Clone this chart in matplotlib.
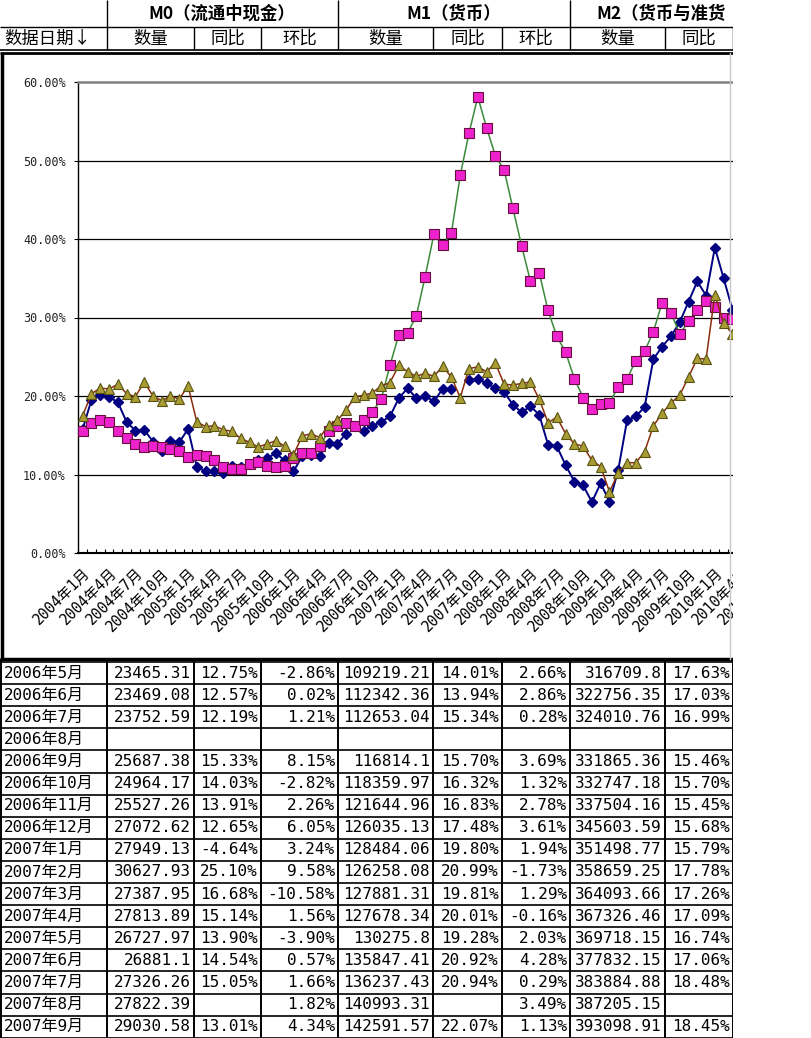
import numpy as np
import matplotlib.pyplot as plt
from matplotlib.patches import Rectangle
from matplotlib.lines import Line2D

W, H = 812, 1038

# monthly categories starting 2004年1月
months = [f"{2004 + k // 12}年{k % 12 + 1}月" for k in range(80)]

# navy diamonds
s_navy = [15.8, 19.5, 20.1, 19.9, 19.2, 16.7, 15.6, 15.7, 14.2, 13.0,
          14.3, 14.1, 15.8, 11.0, 10.4, 10.4, 10.2, 11.1, 11.0, 11.3,
          11.8, 12.1, 12.7, 11.8, 10.4, 12.3, 12.5, 12.4, 14.0, 13.9,
          15.2, np.nan, 15.6, 16.2, 16.7, 17.4, 19.7, 21.0, 19.7, 20.0,
          19.3, 20.9, 20.9, np.nan, 22.0, 22.2, 21.6, 21.0, 20.5, 18.9,
          17.9, 18.7, 17.6, 13.8, 13.6, 11.2, 9.1, 8.6, 6.5, 8.9,
          6.5, 10.6, 16.9, 17.4, 18.6, 24.7, 26.3, 27.6, 29.4, 32.0,
          34.6, 32.8, 38.9, 35.0, 31.0]
# magenta squares, green line
s_pink = [15.5, 16.5, 16.9, 16.7, 15.6, 14.7, 13.9, 13.5, 13.6, 13.5,
          13.3, 13.0, 12.2, 12.5, 12.4, 11.8, 11.0, 10.7, 10.7, 11.3,
          11.6, 11.1, 10.9, 11.1, 12.1, 12.7, 12.7, 13.6, 15.5, 16.2,
          16.6, 16.2, 16.9, 18.0, 19.6, 23.9, 27.8, 28.0, 30.2, 35.2,
          40.6, 39.2, 40.8, 48.1, 53.5, 58.1, 54.2, 50.6, 48.8, 43.9,
          39.1, 34.6, 35.7, 30.9, 27.6, 25.6, 22.2, 19.8, 18.3, 19.0,
          19.1, 21.2, 22.2, 24.5, 25.7, 28.2, 31.9, 30.6, 27.9, 29.5,
          31.0, 32.1, 31.4, 30.0, 29.8]
# olive triangles, brown line
s_olive = [17.5, 20.3, 21.0, 20.9, 21.5, 20.3, 19.9, 21.8, 20.0, 19.4,
           20.0, 19.6, 21.3, 16.7, 16.1, 16.2, 15.7, 15.5, 14.6, 14.1,
           13.5, 13.9, 14.3, 13.6, 12.5, 14.9, 15.2, 14.7, 16.3, 16.9,
           18.2, 19.9, 20.1, 20.4, 21.3, 21.7, 23.9, 23.1, 22.5, 22.9,
           22.5, 23.8, 22.4, 19.8, 23.5, 23.7, 23.1, 24.2, 21.5, 21.4,
           21.6, 21.8, 19.6, 16.6, 17.3, 15.2, 13.9, 13.6, 11.8, 11.0,
           7.8, 10.2, 11.5, 11.5, 12.9, 16.2, 17.8, 19.1, 20.1, 22.4,
           24.8, 24.7, 32.9, 29.3, 27.9]

# table below the chart
rows = [
    ["2006年5月", "23465.31", "12.75%", "-2.86%", "109219.21", "14.01%", "2.66%", "316709.8", "17.63%"],
    ["2006年6月", "23469.08", "12.57%", "0.02%", "112342.36", "13.94%", "2.86%", "322756.35", "17.03%"],
    ["2006年7月", "23752.59", "12.19%", "1.21%", "112653.04", "15.34%", "0.28%", "324010.76", "16.99%"],
    ["2006年8月", "", "", "", "", "", "", "", ""],
    ["2006年9月", "25687.38", "15.33%", "8.15%", "116814.1", "15.70%", "3.69%", "331865.36", "15.46%"],
    ["2006年10月", "24964.17", "14.03%", "-2.82%", "118359.97", "16.32%", "1.32%", "332747.18", "15.70%"],
    ["2006年11月", "25527.26", "13.91%", "2.26%", "121644.96", "16.83%", "2.78%", "337504.16", "15.45%"],
    ["2006年12月", "27072.62", "12.65%", "6.05%", "126035.13", "17.48%", "3.61%", "345603.59", "15.68%"],
    ["2007年1月", "27949.13", "-4.64%", "3.24%", "128484.06", "19.80%", "1.94%", "351498.77", "15.79%"],
    ["2007年2月", "30627.93", "25.10%", "9.58%", "126258.08", "20.99%", "-1.73%", "358659.25", "17.78%"],
    ["2007年3月", "27387.95", "16.68%", "-10.58%", "127881.31", "19.81%", "1.29%", "364093.66", "17.26%"],
    ["2007年4月", "27813.89", "15.14%", "1.56%", "127678.34", "20.01%", "-0.16%", "367326.46", "17.09%"],
    ["2007年5月", "26727.97", "13.90%", "-3.90%", "130275.8", "19.28%", "2.03%", "369718.15", "16.74%"],
    ["2007年6月", "26881.1", "14.54%", "0.57%", "135847.41", "20.92%", "4.28%", "377832.15", "17.06%"],
    ["2007年7月", "27326.26", "15.05%", "1.66%", "136237.43", "20.94%", "0.29%", "383884.88", "18.48%"],
    ["2007年8月", "27822.39", "", "1.82%", "140993.31", "", "3.49%", "387205.15", ""],
    ["2007年9月", "29030.58", "13.01%", "4.34%", "142591.57", "22.07%", "1.13%", "393098.91", "18.45%"],
]
sub_heads = ["数量", "同比", "环比", "数量", "同比", "环比", "数量", "同比"]

col_x = [0, 107, 194, 261, 338, 433, 502, 570, 665, 733]
CJK = ['Noto Sans CJK SC', 'DejaVu Sans']
MONO = ['DejaVu Sans Mono', 'Noto Sans CJK SC']


def fig_box(x0, y0, x1, y1):
    return [x0 / W, 1 - y1 / H, (x1 - x0) / W, (y1 - y0) / H]


fig = plt.figure(figsize=(W / 100, H / 100), dpi=100)
lay = fig.add_axes([0, 0, 1, 1])
lay.set_xlim(0, W)
lay.set_ylim(H, 0)
lay.axis('off')

# header
lay.hlines(27, 0, 733, color='black', lw=1)
lay.hlines(49.5, 0, 733, color='black', lw=1.2)
lay.hlines(53, 0, 733, color='black', lw=2)
lay.vlines([107, 338, 570], 0, 27, color='black', lw=1)
lay.vlines(col_x[1:], 27, 50, color='black', lw=1)
lay.text(222, 14, "M0（流通中现金）", ha='center', va='center', fontsize=12.5,
         fontweight='bold', family=CJK)
lay.text(454, 14, "M1（货币）", ha='center', va='center', fontsize=12.5,
         fontweight='bold', family=CJK)
lay.text(596, 14, "M2（货币与准货", ha='left', va='center', fontsize=12.5,
         fontweight='bold', family=CJK)
lay.text(4, 38.5, "数据日期↓", ha='left', va='center', fontsize=12.5, family=CJK)
for j, h in enumerate(sub_heads):
    lay.text((col_x[j + 1] + col_x[j + 2]) / 2, 38.5, h, ha='center', va='center',
             fontsize=12.5, family=CJK)

# chart frame
lay.vlines(2, 53, 659, color='black', lw=2.5)
lay.hlines(659, 0, 733, color='black', lw=2.5)

# table
row_h = 22.1
top = 662
for k in range(len(rows) + 1):
    lay.hlines(top + k * row_h, 0, 733, color='black', lw=1.2)
lay.vlines(col_x[1:], 659, H, color='black', lw=1.4)
lay.vlines(1, 659, H, color='black', lw=1.4)
for k, r in enumerate(rows):
    yc = top + (k + 0.5) * row_h
    lay.text(4, yc, r[0], ha='left', va='center', fontsize=11.5, family=MONO)
    for j, v in enumerate(r[1:]):
        lay.text(col_x[j + 2] - 3, yc, v, ha='right', va='center',
                 fontsize=11.5, family=MONO)

# chart
n_cat = 80
ax = fig.add_axes(fig_box(78.3, 82, 78.3 + 8.78 * n_cat, 553))
xs = np.arange(len(s_navy))
ax.plot(xs, s_navy, '-', color='#000080', lw=1.4, marker='D', ms=5.4,
        mfc='#000080', mec='#000080', zorder=3)
ax.plot(xs, s_pink, '-', color='#3a8a3a', lw=1.1, marker='s', ms=6.5,
        mfc='#ee22cc', mec='#66103f', mew=0.8, zorder=4)
ax.plot(xs, s_olive, '-', color='#8b2d0c', lw=1.1, marker='^', ms=7,
        mfc='#a89c32', mec='#5a5414', mew=0.8, zorder=5)

for v in [10, 20, 30, 40, 50]:
    ax.axhline(v, color='black', lw=0.9, zorder=1)
ax.set_xlim(-0.5, n_cat - 0.5)
ax.set_ylim(0, 60)
ax.spines['right'].set_visible(False)
ax.spines['top'].set_color('#808080')
ax.spines['top'].set_linewidth(1.8)
ax.spines['left'].set_linewidth(1.0)
ax.spines['bottom'].set_linewidth(1.5)

ax.set_yticks(np.arange(0, 61, 10))
ax.set_yticklabels([f"{v:.2f}%" for v in range(0, 61, 10)], family=MONO,
                   fontsize=8.5, color='#222222')
ax.tick_params(axis='y', direction='out', length=3, pad=6)

ax.set_xticks(np.arange(-0.5, n_cat, 1))
ax.set_xticklabels([])
ax.tick_params(axis='x', which='major', direction='in', length=3, width=0.8)
lab_pos = np.arange(0, n_cat, 3)
ax.set_xticks(lab_pos, minor=True)
ax.set_xticklabels([months[i] for i in lab_pos], minor=True, rotation=45,
                   ha='right', rotation_mode='anchor', family=MONO, fontsize=10.5)
ax.tick_params(axis='x', which='minor', length=0, pad=9)

# window edge on the right
fig.add_artist(Rectangle((733 / W, 0), 1, 1, transform=fig.transFigure,
                         facecolor='white', edgecolor='none', zorder=10))
fig.add_artist(Line2D([730 / W, 730 / W], [1 - 659 / H, 1 - 53 / H],
                      transform=fig.transFigure, color='#c8c8c8', lw=1, zorder=11))

fig.savefig("out.png", dpi=100)
